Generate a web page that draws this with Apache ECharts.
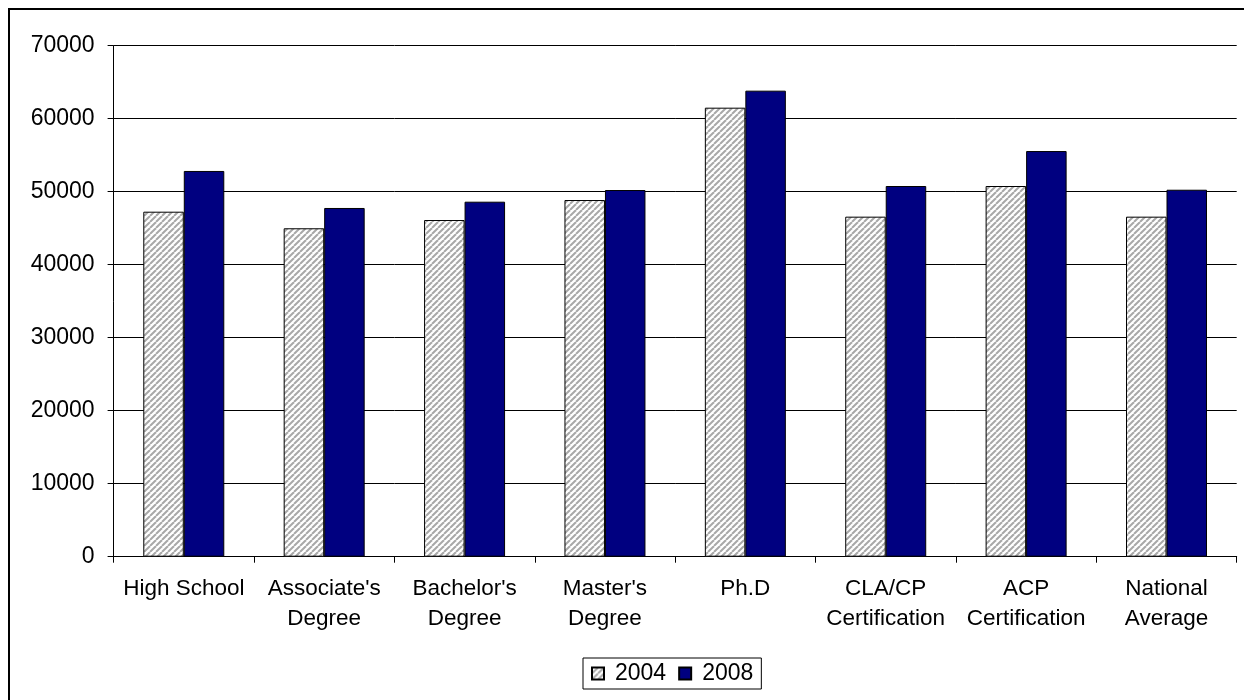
<!DOCTYPE html>
<html>
<head>
<meta charset="utf-8">
<script src="https://cdn.jsdelivr.net/npm/echarts@6/dist/echarts.min.js"></script>
<style>
html,body{margin:0;padding:0;background:#fff;}
#c{width:1244px;height:700px;}
</style>
</head>
<body>
<div id="c"></div>
<script>
var categories = ["High School", "Associate's\nDegree", "Bachelor's\nDegree", "Master's\nDegree", "Ph.D", "CLA/CP\nCertification", "ACP\nCertification", "National\nAverage"];
var values2004 = [47260, 44990, 46120, 48860, 61510, 46580, 50780, 46580];
var values2008 = [52840, 47770, 48630, 50230, 63840, 50780, 55570, 50270];
var seriesNames = ["2004", "2008"];

function hatch() {
  var n = 6;
  var cv = document.createElement('canvas');
  cv.width = n; cv.height = n;
  var ctx = cv.getContext('2d');
  ctx.fillStyle = '#ffffff';
  ctx.fillRect(0, 0, n, n);
  ctx.strokeStyle = '#a8a8a8';
  ctx.lineWidth = 2;
  for (var k = -1; k <= 1; k++) {
    ctx.beginPath();
    ctx.moveTo(k * n, n);
    ctx.lineTo(k * n + n, 0);
    ctx.stroke();
  }
  return cv;
}

var chart = echarts.init(document.getElementById('c'));
var font = 'Liberation Sans, Arial, sans-serif';
chart.setOption({
  backgroundColor: '#ffffff',
  animation: false,
  grid: {left: 113.6, right: 7.3, top: 45.7, bottom: 143.3},
  graphic: [{
    type: 'rect', shape: {x: 9, y: 9, width: 1400, height: 900},
    style: {fill: 'none', stroke: '#000', lineWidth: 2}, silent: true
  }],
  legend: {
    data: seriesNames,
    left: 583, top: 658,
    icon: 'rect',
    itemWidth: 12, itemHeight: 12, itemGap: 12,
    borderColor: '#000', borderWidth: 1,
    padding: [4, 8, 4, 8],
    textStyle: {fontFamily: font, fontSize: 23, color: '#000', padding: [0, 0, 0, 6]}
  },
  xAxis: {
    type: 'category',
    data: categories,
    axisLine: {lineStyle: {color: '#000', width: 1}},
    axisTick: {show: true, length: 6, lineStyle: {color: '#000'}},
    axisLabel: {interval: 0, fontFamily: font, fontSize: 22.5, color: '#000', lineHeight: 30, margin: 17}
  },
  yAxis: {
    type: 'value', min: 0, max: 70000, interval: 10000,
    axisLine: {show: true, lineStyle: {color: '#000', width: 1}},
    axisTick: {show: true, length: 6, lineStyle: {color: '#000'}},
    splitLine: {lineStyle: {color: '#000', width: 1}},
    axisLabel: {fontFamily: font, fontSize: 23, color: '#000', margin: 19,
      formatter: function (v) { return String(v); }}
  },
  series: [{
    name: seriesNames[0], type: 'bar', data: values2004,
    barWidth: 40.5, barGap: '0%',
    itemStyle: {color: {image: hatch(), repeat: 'repeat'}, borderColor: '#000', borderWidth: 1}
  }, {
    name: seriesNames[1], type: 'bar', data: values2008,
    barWidth: 40.5,
    itemStyle: {color: '#000080', borderColor: '#000', borderWidth: 1}
  }]
});
</script>
</body>
</html>
